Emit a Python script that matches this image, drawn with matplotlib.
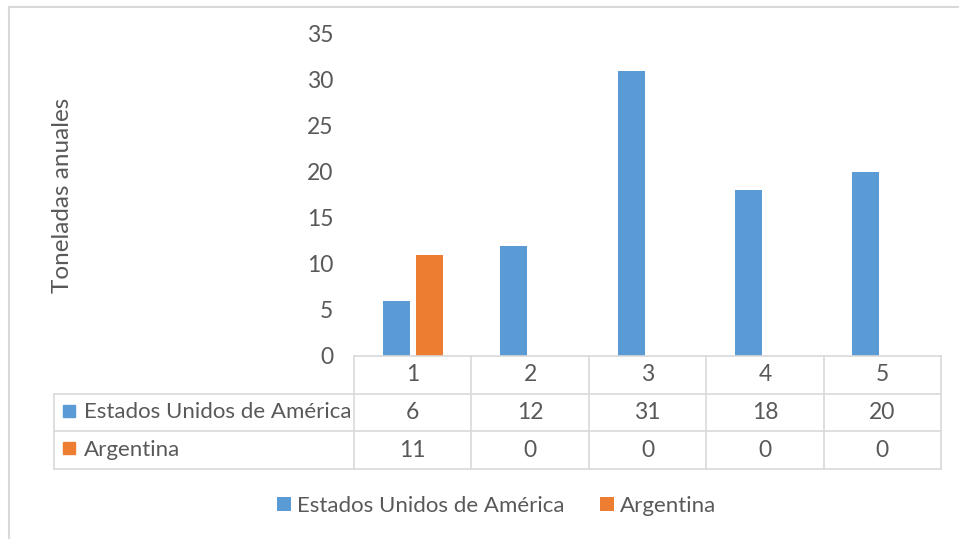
import matplotlib.pyplot as plt
import numpy as np
from matplotlib.lines import Line2D

# data
categories = ['1', '2', '3', '4', '5']
series_names = ['Estados Unidos de América', 'Argentina']
usa = [6, 12, 31, 18, 20]
argentina = [11, 0, 0, 0, 0]
yticks = [0, 5, 10, 15, 20, 25, 30, 35]

blue = '#5B9BD5'
orange = '#ED7D31'
txt = '#595959'
grid_c = '#D9D9D9'

plt.rcParams['font.family'] = ['Lato', 'DejaVu Sans']

W, H = 959, 539
fig = plt.figure(figsize=(W / 100, H / 100), dpi=100)

def px_axes(left, top, right, bottom):
    return fig.add_axes([left / W, 1 - bottom / H, (right - left) / W, (bottom - top) / H])

fs_txt = 16
fs_num = 16.5
cat_px = (941 - 354) / 5

# main bar axes
ax = px_axes(354, 34, 941, 356)
x = np.arange(1, len(categories) + 1)
b1 = ax.bar(x - 0.14, usa, width=0.23, color=blue, label=series_names[0])
b2 = ax.bar(x + 0.14, argentina, width=0.23, color=orange, label=series_names[1])
ax.set_xlim(0.5, 5.5)
ax.set_ylim(0, 35)
ax.set_yticks(yticks)
ax.set_xticks([])
ax.tick_params(axis='y', length=0, pad=15, labelsize=fs_num, labelcolor=txt)
for s in ['top', 'right', 'left', 'bottom']:
    ax.spines[s].set_visible(False)
ax.set_ylabel('Toneladas anuales', fontsize=17.5, color=txt, labelpad=0)
ax.yaxis.set_label_coords(-(354 - 73) / 587, 0.5)

# data table below
label_w = 300 / cat_px
tx = px_axes(54, 356, 941, 469)
tx.set_xlim(0.5 - label_w, 5.5)
tx.set_ylim(3, 0)
tx.axis('off')
lw = 1.2
tx.plot([0.5, 5.5], [0, 0], color=grid_c, lw=lw, clip_on=False)
for r in [1, 2, 3]:
    tx.plot([0.5 - label_w, 5.5], [r, r], color=grid_c, lw=lw, clip_on=False)
tx.plot([0.5 - label_w, 0.5 - label_w], [1, 3], color=grid_c, lw=lw, clip_on=False)
for c in np.arange(0.5, 6.0, 1.0):
    tx.plot([c, c], [0, 3], color=grid_c, lw=lw, clip_on=False)

for i, cat in enumerate(categories):
    tx.text(x[i], 0.5, cat, ha='center', va='center', fontsize=fs_num, color=txt)
    tx.text(x[i], 1.5, str(usa[i]), ha='center', va='center', fontsize=fs_num, color=txt)
    tx.text(x[i], 2.5, str(argentina[i]), ha='center', va='center', fontsize=fs_num, color=txt)

sq_x = 0.5 - label_w + 15 / cat_px
for r, (name, col) in enumerate(zip(series_names, [blue, orange])):
    tx.plot([sq_x], [1.45 + r], marker='s', markersize=8.6, color=col, clip_on=False)
    tx.text(sq_x + 15 / cat_px, 1.5 + r, name, ha='left', va='center', fontsize=fs_txt, color=txt)

# legend
fig.legend(handles=[b1, b2], labels=series_names, loc='center', bbox_to_anchor=(497 / W, 1 - 506 / H),
           ncol=2, frameon=False, fontsize=fs_txt, labelcolor=txt, handlelength=0.6, handleheight=0.6,
           handletextpad=0.3, columnspacing=1.6)

# chart frame (top and left edges visible)
fig.add_artist(Line2D([8.5 / W, 1], [1 - 6.5 / H, 1 - 6.5 / H], color=grid_c, lw=1.5, transform=fig.transFigure))
fig.add_artist(Line2D([8.5 / W, 8.5 / W], [0, 1 - 6.5 / H], color=grid_c, lw=1.5, transform=fig.transFigure))

fig.savefig('out.png', dpi=100)
